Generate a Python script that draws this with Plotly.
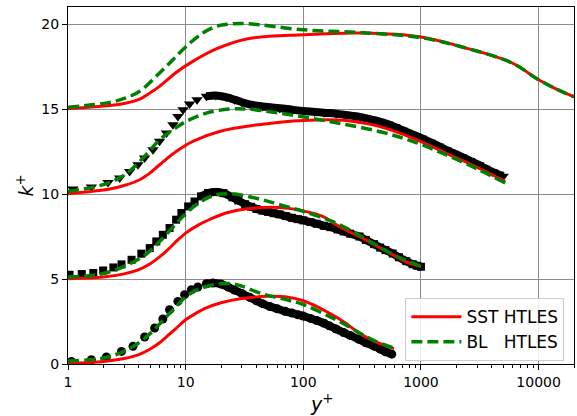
import plotly.graph_objects as go

# ---------------- data ----------------
# Group 1 (offset 0) - DNS circles
dns1_y = [1.07, 1.58, 2.12, 2.85, 3.57, 4.48, 5.45, 6.4, 7.3, 8.6, 9.8, 11.2, 12.7, 15, 17, 20,
          23, 26, 30, 35, 40, 45, 52, 60, 70, 80, 90, 100, 115, 130, 150, 166, 190, 220, 250,
          297, 340, 400, 450, 500, 565]
dns1_k = [0.15, 0.25, 0.41, 0.74, 1.04, 1.59, 2.12, 2.65, 3.19, 3.68, 4.08, 4.37, 4.53, 4.72, 4.76, 4.7,
          4.52, 4.35, 4.15, 3.92, 3.72, 3.55, 3.38, 3.25, 3.1, 3.0, 2.9, 2.82, 2.68, 2.56, 2.4, 2.25, 2.06, 1.85, 1.68,
          1.45, 1.25, 1.05, 0.88, 0.72, 0.58]
sst1_y = [1, 2, 3, 4, 5, 6, 7, 8.3, 10, 12, 15, 20, 30, 50, 70, 100, 166, 230, 297, 400, 590]
sst1_k = [0.02, 0.15, 0.32, 0.55, 0.88, 1.25, 1.65, 2.1, 2.6, 2.95, 3.3, 3.6, 3.85, 3.98, 3.95, 3.72, 3.0, 2.4, 1.82, 1.35, 0.9]
bl1_y = [1, 2, 3, 4, 5, 6, 7, 8, 10, 12, 15, 19.5, 25, 30, 45, 70, 100, 166, 230, 297, 400, 590]
bl1_k = [0.18, 0.35, 0.75, 1.25, 1.8, 2.35, 2.85, 3.25, 3.95, 4.3, 4.56, 4.72, 4.72, 4.58, 4.12, 3.8, 3.5, 2.8, 2.3, 1.85, 1.38, 0.92]

# Group 2 (offset 5) - DNS squares
dns2_y = [1.03, 1.31, 1.64, 1.99, 2.43, 2.85, 3.47, 4.2, 4.95, 5.63, 6.4, 7.3, 8.3, 9.2, 10.5, 11.9,
          13.5, 15.5, 18, 21, 25, 28, 32, 36, 40, 45, 50, 56, 63, 71, 80, 90, 100, 115, 130, 150, 170,
          195, 220, 250, 300, 340, 400, 450, 500, 575, 650, 750, 850, 930, 1000]
dns2_k = [5.25, 5.29, 5.35, 5.5, 5.68, 5.86, 6.13, 6.49, 6.82, 7.21, 7.6, 8.0, 8.49, 8.88, 9.27, 9.56,
          9.86, 10.06, 10.12, 10.05, 9.8, 9.62, 9.4, 9.25, 9.12, 9.02, 8.95, 8.87, 8.8, 8.7, 8.6, 8.52, 8.45, 8.35, 8.25, 8.13, 8.05,
          7.92, 7.8, 7.67, 7.5, 7.3, 7.05, 6.85, 6.7, 6.5, 6.28, 6.05, 5.87, 5.78, 5.72]
sst2_y = [1, 2, 3, 4, 5, 6, 7, 8.9, 10, 13, 16, 22, 33, 63, 100, 146, 190, 250, 340, 445, 575, 750, 1000]
sst2_k = [5.02, 5.12, 5.3, 5.55, 5.9, 6.3, 6.7, 7.4, 7.7, 8.2, 8.5, 8.88, 9.13, 9.2, 9.0, 8.68, 8.2, 7.75, 7.3, 6.85, 6.43, 6.0, 5.74]
bl2_y = [1, 1.64, 2.2, 3.14, 4.6, 6, 7.8, 10.2, 13.1, 17, 23.6, 45, 63, 100, 190, 340, 575, 1000]
bl2_k = [5.1, 5.22, 5.4, 5.8, 6.45, 7.2, 8.05, 8.9, 9.5, 9.9, 10.02, 9.66, 9.37, 8.98, 8.29, 7.35, 6.45, 5.74]

# Group 3 (offset 10) - DNS down-triangles
dns3_y = [1.1, 1.58, 2.19, 2.75, 3.34, 3.93, 4.48, 5.28, 6.0, 6.87, 7.8, 8.6, 9.5, 10.8, 12.5, 15, 18,
          22, 26, 30, 36, 45, 53, 63, 80, 100, 125, 150, 190, 230, 280, 330, 380, 440, 520, 600, 700, 850,
          1000, 1200, 1400, 1630, 1900, 2200, 2600, 3100, 3500, 4000, 4500, 5000]
dns3_k = [10.29, 10.41, 10.68, 10.94, 11.33, 11.72, 12.12, 12.6, 13.1, 13.59, 14.08, 14.56, 14.96, 15.3, 15.55, 15.75, 15.8,
          15.7, 15.55, 15.4, 15.25, 15.15, 15.1, 15.05, 14.96, 14.88, 14.83, 14.78, 14.72, 14.65, 14.57, 14.48, 14.38, 14.27, 14.12, 13.95, 13.75, 13.5,
          13.3, 13.05, 12.83, 12.6, 12.4, 12.2, 11.97, 11.72, 11.52, 11.32, 11.17, 11.04]
sst3_y = [1, 2.27, 3, 4.07, 5, 6, 8.3, 11.5, 19.4, 42, 100, 230, 440, 850, 1630, 3100, 5200]
sst3_k = [10.02, 10.3, 10.5, 10.84, 11.25, 11.72, 12.5, 13.1, 13.68, 14.08, 14.33, 14.33, 13.98, 13.29, 12.41, 11.53, 10.74]
bl3_y = [1, 1.63, 2.3, 3.14, 4.6, 6, 7.8, 10.1, 15, 23.6, 33, 63, 166, 440, 850, 1630, 3100, 5200]
bl3_k = [10.15, 10.4, 10.7, 11.2, 12.3, 13.19, 13.78, 14.27, 14.76, 15.0, 15.0, 14.76, 14.27, 13.68, 13.1, 12.31, 11.43, 10.65]

# Group 4 (offset 15) - no DNS
sst4_y = [1, 2.27, 3, 4.07, 5, 6, 8.3, 11.5, 18, 33, 100, 316, 1000, 2200, 5900, 10000, 13900, 20000]
sst4_k = [15.02, 15.2, 15.32, 15.58, 15.95, 16.33, 17.15, 17.8, 18.52, 19.12, 19.37, 19.47, 19.24, 18.66, 17.72, 16.72, 16.2, 15.72]
bl4_y = [1, 2.27, 3, 4.07, 6, 7.8, 10.1, 14, 18.2, 23.6, 33, 100, 316, 1000, 2200, 5900, 10000, 13900, 20000]
bl4_k = [15.1, 15.39, 15.62, 16.04, 17.12, 17.9, 18.68, 19.47, 19.86, 20.0, 20.02, 19.66, 19.49, 19.2, 18.66, 17.72, 16.72, 16.2, 15.72]

x_ticks = [1, 10, 100, 1000, 10000]
x_ticktext = ["1", "10", "100", "1000", "10000"]
y_ticks = [0, 5, 10, 15, 20]

RED = "#ff0000"
GREEN = "#008000"

fig = go.Figure()

groups = [
    (dns1_y, dns1_k, "circle", 9, sst1_y, sst1_k, bl1_y, bl1_k),
    (dns2_y, dns2_k, "square", 8, sst2_y, sst2_k, bl2_y, bl2_k),
    (dns3_y, dns3_k, "triangle-down", 10, sst3_y, sst3_k, bl3_y, bl3_k),
    (None, None, None, None, sst4_y, sst4_k, bl4_y, bl4_k),
]

for gi, (dy, dk, sym, msz, sy, sk, by, bk) in enumerate(groups):
    if dy is not None:
        ty = [a for a in dy if a >= 13]
        tk = [b for a, b in zip(dy, dk) if a >= 13]
        fig.add_trace(go.Scatter(x=ty, y=tk, mode="lines", line=dict(color="black", width=8, shape="spline"),
                                 showlegend=False, hoverinfo="skip"))
        fig.add_trace(go.Scatter(x=dy, y=dk, mode="markers",
                                 marker=dict(symbol=sym, size=msz, color="black", line=dict(width=0)),
                                 showlegend=False))
    fig.add_trace(go.Scatter(x=sy, y=sk, mode="lines", name="SST HTLES",
                             line=dict(color=RED, width=3, shape="spline"),
                             showlegend=(gi == 0), legendrank=1))
    fig.add_trace(go.Scatter(x=by, y=bk, mode="lines", name="BL\u00a0\u00a0\u00a0HTLES",
                             line=dict(color=GREEN, width=3.5, dash="11px,5px", shape="spline"),
                             showlegend=(gi == 0), legendrank=2))

axis_font = dict(family="DejaVu Sans", size=14, color="black")
fig.update_xaxes(type="log", range=[0, 4.301], tickvals=x_ticks, ticktext=x_ticktext,
                 showgrid=True, gridcolor="#8c8c8c", gridwidth=1.2,
                 showline=True, linecolor="black", linewidth=1, mirror=True,
                 ticks="outside", ticklen=5, tickcolor="black", tickfont=axis_font,
                 minor=dict(ticks="outside", ticklen=2.5, tickcolor="black", dtick="D1", showgrid=False),
                 automargin=False, zeroline=False)
fig.update_yaxes(range=[0, 21], tickvals=y_ticks,
                 showgrid=True, gridcolor="#8c8c8c", gridwidth=1.2,
                 showline=True, linecolor="black", linewidth=1, mirror=True,
                 ticks="outside", ticklen=5, tickcolor="black", tickfont=axis_font,
                 automargin=False, zeroline=False)

title_font = dict(family="DejaVu Sans", size=19, color="black")
fig.add_annotation(text="<i>y</i><sup>+</sup>", xref="paper", yref="paper", x=0.5, y=-0.11,
                   xanchor="center", yanchor="middle", showarrow=False, font=title_font)
fig.add_annotation(text="<i>k</i><sup>+</sup>", xref="paper", yref="paper", x=-0.085, y=0.5,
                   xanchor="center", yanchor="middle", showarrow=False, font=title_font, textangle=-90)

fig.update_layout(
    width=577, height=416,
    margin=dict(l=68, r=3, t=7, b=52),
    plot_bgcolor="white", paper_bgcolor="white",
    font=dict(family="DejaVu Sans", color="black"),
    legend=dict(x=0.981, y=0.008, xanchor="right", yanchor="bottom",
                bgcolor="rgba(255,255,255,0.85)", bordercolor="#cccccc", borderwidth=1,
                font=dict(family="DejaVu Sans", size=17, color="black"),
                tracegroupgap=0, itemwidth=50),
)

fig.write_html("out.html", config={"displayModeBar": False},
               post_script="document.body.style.margin='0px';")
